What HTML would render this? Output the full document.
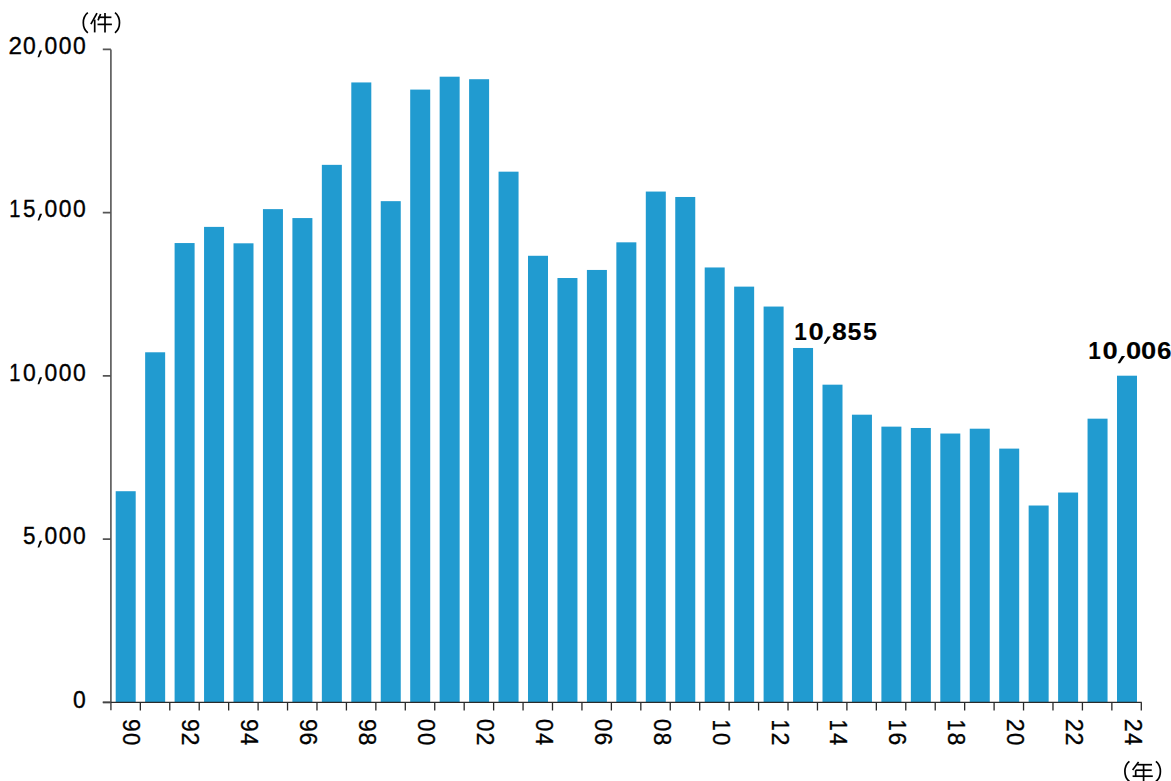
<!DOCTYPE html><html><head><meta charset="utf-8"><style>html,body{margin:0;padding:0;background:#fff;width:1171px;height:781px;overflow:hidden;font-family:"Liberation Sans",sans-serif}</style></head><body><svg width="1171" height="781" viewBox="0 0 1171 781" style="display:block;font-family:'Liberation Sans',sans-serif"><rect width="1171" height="781" fill="#fff"/><rect x="115.70" y="491.22" width="20.00" height="211.18" fill="#219BD0"/><rect x="145.15" y="352.29" width="20.00" height="350.11" fill="#219BD0"/><rect x="174.60" y="243.05" width="20.00" height="459.35" fill="#219BD0"/><rect x="204.05" y="226.89" width="20.00" height="475.51" fill="#219BD0"/><rect x="233.50" y="243.31" width="20.00" height="459.09" fill="#219BD0"/><rect x="262.95" y="209.12" width="20.00" height="493.28" fill="#219BD0"/><rect x="292.40" y="218.07" width="20.00" height="484.33" fill="#219BD0"/><rect x="321.85" y="164.85" width="20.00" height="537.55" fill="#219BD0"/><rect x="351.30" y="82.44" width="20.00" height="619.96" fill="#219BD0"/><rect x="380.75" y="201.16" width="20.00" height="501.24" fill="#219BD0"/><rect x="410.20" y="89.59" width="20.00" height="612.81" fill="#219BD0"/><rect x="439.65" y="76.70" width="20.00" height="625.70" fill="#219BD0"/><rect x="469.10" y="79.21" width="20.00" height="623.19" fill="#219BD0"/><rect x="498.55" y="171.67" width="20.00" height="530.73" fill="#219BD0"/><rect x="528.00" y="255.78" width="20.00" height="446.62" fill="#219BD0"/><rect x="557.45" y="278.02" width="20.00" height="424.38" fill="#219BD0"/><rect x="586.90" y="269.95" width="20.00" height="432.45" fill="#219BD0"/><rect x="616.35" y="242.33" width="20.00" height="460.07" fill="#219BD0"/><rect x="645.80" y="191.56" width="20.00" height="510.84" fill="#219BD0"/><rect x="675.25" y="196.98" width="20.00" height="505.42" fill="#219BD0"/><rect x="704.70" y="267.47" width="20.00" height="434.93" fill="#219BD0"/><rect x="734.15" y="286.63" width="20.00" height="415.77" fill="#219BD0"/><rect x="763.60" y="306.55" width="20.00" height="395.85" fill="#219BD0"/><rect x="793.05" y="347.98" width="20.00" height="354.42" fill="#219BD0"/><rect x="822.50" y="384.68" width="20.00" height="317.72" fill="#219BD0"/><rect x="851.95" y="414.69" width="20.00" height="287.71" fill="#219BD0"/><rect x="881.40" y="426.64" width="20.00" height="275.76" fill="#219BD0"/><rect x="910.85" y="427.98" width="20.00" height="274.42" fill="#219BD0"/><rect x="940.30" y="433.53" width="20.00" height="268.87" fill="#219BD0"/><rect x="969.75" y="428.70" width="20.00" height="273.70" fill="#219BD0"/><rect x="999.20" y="448.61" width="20.00" height="253.79" fill="#219BD0"/><rect x="1028.65" y="505.52" width="20.00" height="196.88" fill="#219BD0"/><rect x="1058.10" y="492.53" width="20.00" height="209.87" fill="#219BD0"/><rect x="1087.55" y="418.67" width="20.00" height="283.73" fill="#219BD0"/><rect x="1117.00" y="375.70" width="20.00" height="326.70" fill="#219BD0"/><path d="M110.90 49.40V710.30 M102.80 702.40H110.90 M102.80 539.15H110.90 M102.80 375.90H110.90 M102.80 212.65H110.90 M102.80 49.40H110.90" stroke="#555" stroke-width="1.6" fill="none"/><path d="M110.90 702.40H1141.80 M140.34 702.40V710.40 M169.78 702.40V710.40 M199.22 702.40V710.40 M228.66 702.40V710.40 M258.10 702.40V710.40 M287.54 702.40V710.40 M316.98 702.40V710.40 M346.42 702.40V710.40 M375.86 702.40V710.40 M405.30 702.40V710.40 M434.74 702.40V710.40 M464.18 702.40V710.40 M493.62 702.40V710.40 M523.06 702.40V710.40 M552.50 702.40V710.40 M581.94 702.40V710.40 M611.38 702.40V710.40 M640.82 702.40V710.40 M670.26 702.40V710.40 M699.70 702.40V710.40 M729.14 702.40V710.40 M758.58 702.40V710.40 M788.02 702.40V710.40 M817.46 702.40V710.40 M846.90 702.40V710.40 M876.34 702.40V710.40 M905.78 702.40V710.40 M935.22 702.40V710.40 M964.66 702.40V710.40 M994.10 702.40V710.40 M1023.54 702.40V710.40 M1052.98 702.40V710.40 M1082.42 702.40V710.40 M1111.86 702.40V710.40 M1141.30 702.40V710.40" stroke="#2a2a2a" stroke-width="1.3" fill="none"/><path d="M102.8 702.40H110.90" stroke="#444" stroke-width="1.5" fill="none"/><g fill="#000" stroke="#000" stroke-width="0.35" stroke-linejoin="round"><text transform="translate(72.88 707.50) scale(0.9831 1)" font-size="23.30" font-weight="normal">0</text></g><g fill="#000" stroke="#000" stroke-width="0.35" stroke-linejoin="round"><text transform="translate(23.08 543.90) scale(0.9549 1)" font-size="23.52" font-weight="normal">5</text><text transform="translate(44.48 543.90) scale(0.9738 1)" font-size="23.52" font-weight="normal">0</text><text transform="translate(58.78 543.90) scale(0.9738 1)" font-size="23.52" font-weight="normal">0</text><text transform="translate(72.88 543.90) scale(0.9738 1)" font-size="23.52" font-weight="normal">0</text></g><path d="M39.85 540.70 L42.15 540.70 L39.25 547.60 L37.55 547.60 Z" fill="#000"/><g fill="#000" stroke="#000" stroke-width="0.35" stroke-linejoin="round"><text transform="translate(9.35 380.50) scale(0.8477 1)" font-size="23.67" font-weight="normal">1</text><text transform="translate(22.93 380.50) scale(0.9679 1)" font-size="23.67" font-weight="normal">0</text><text transform="translate(44.48 380.50) scale(0.9679 1)" font-size="23.67" font-weight="normal">0</text><text transform="translate(58.78 380.50) scale(0.9679 1)" font-size="23.67" font-weight="normal">0</text><text transform="translate(72.88 380.50) scale(0.9679 1)" font-size="23.67" font-weight="normal">0</text></g><path d="M39.85 377.30 L42.15 377.30 L39.25 384.20 L37.55 384.20 Z" fill="#000"/><g fill="#000" stroke="#000" stroke-width="0.35" stroke-linejoin="round"><text transform="translate(9.35 216.90) scale(0.8376 1)" font-size="23.95" font-weight="normal">1</text><text transform="translate(23.08 216.90) scale(0.9378 1)" font-size="23.95" font-weight="normal">5</text><text transform="translate(44.48 216.90) scale(0.9563 1)" font-size="23.95" font-weight="normal">0</text><text transform="translate(58.78 216.90) scale(0.9563 1)" font-size="23.95" font-weight="normal">0</text><text transform="translate(72.88 216.90) scale(0.9563 1)" font-size="23.95" font-weight="normal">0</text></g><path d="M39.85 213.70 L42.15 213.70 L39.25 220.60 L37.55 220.60 Z" fill="#000"/><g fill="#000" stroke="#000" stroke-width="0.35" stroke-linejoin="round"><text transform="translate(8.46 53.60) scale(1.0249 1)" font-size="23.67" font-weight="normal">2</text><text transform="translate(22.93 53.60) scale(0.9679 1)" font-size="23.67" font-weight="normal">0</text><text transform="translate(44.48 53.60) scale(0.9679 1)" font-size="23.67" font-weight="normal">0</text><text transform="translate(58.78 53.60) scale(0.9679 1)" font-size="23.67" font-weight="normal">0</text><text transform="translate(72.88 53.60) scale(0.9679 1)" font-size="23.67" font-weight="normal">0</text></g><path d="M39.85 50.40 L42.15 50.40 L39.25 57.30 L37.55 57.30 Z" fill="#000"/><g fill="#000" stroke="#000" stroke-width="0.35" stroke-linejoin="round"><text transform="translate(123.40 718.90) rotate(90) scale(0.9712 1)" font-size="23.52">9</text><text transform="translate(123.40 732.91) rotate(90) scale(0.9385 1)" font-size="23.52">0</text></g><g fill="#000" stroke="#000" stroke-width="0.35" stroke-linejoin="round"><text transform="translate(182.32 718.90) rotate(90) scale(0.9712 1)" font-size="23.52">9</text><text transform="translate(182.32 732.55) rotate(90) scale(0.9941 1)" font-size="23.52">2</text></g><g fill="#000" stroke="#000" stroke-width="0.35" stroke-linejoin="round"><text transform="translate(241.24 718.90) rotate(90) scale(0.9712 1)" font-size="23.52">9</text><text transform="translate(241.24 733.13) rotate(90) scale(0.9156 1)" font-size="23.52">4</text></g><g fill="#000" stroke="#000" stroke-width="0.35" stroke-linejoin="round"><text transform="translate(300.16 718.90) rotate(90) scale(0.9712 1)" font-size="23.52">9</text><text transform="translate(300.16 732.61) rotate(90) scale(0.9722 1)" font-size="23.52">6</text></g><g fill="#000" stroke="#000" stroke-width="0.35" stroke-linejoin="round"><text transform="translate(359.08 718.90) rotate(90) scale(0.9712 1)" font-size="23.52">9</text><text transform="translate(359.08 732.80) rotate(90) scale(0.9561 1)" font-size="23.52">8</text></g><g fill="#000" stroke="#000" stroke-width="0.35" stroke-linejoin="round"><text transform="translate(418.00 719.11) rotate(90) scale(0.9385 1)" font-size="23.52">0</text><text transform="translate(418.00 732.91) rotate(90) scale(0.9385 1)" font-size="23.52">0</text></g><g fill="#000" stroke="#000" stroke-width="0.35" stroke-linejoin="round"><text transform="translate(476.92 719.11) rotate(90) scale(0.9385 1)" font-size="23.52">0</text><text transform="translate(476.92 732.55) rotate(90) scale(0.9941 1)" font-size="23.52">2</text></g><g fill="#000" stroke="#000" stroke-width="0.35" stroke-linejoin="round"><text transform="translate(535.84 719.11) rotate(90) scale(0.9385 1)" font-size="23.52">0</text><text transform="translate(535.84 733.13) rotate(90) scale(0.9156 1)" font-size="23.52">4</text></g><g fill="#000" stroke="#000" stroke-width="0.35" stroke-linejoin="round"><text transform="translate(594.76 719.11) rotate(90) scale(0.9385 1)" font-size="23.52">0</text><text transform="translate(594.76 732.61) rotate(90) scale(0.9722 1)" font-size="23.52">6</text></g><g fill="#000" stroke="#000" stroke-width="0.35" stroke-linejoin="round"><text transform="translate(653.68 719.11) rotate(90) scale(0.9385 1)" font-size="23.52">0</text><text transform="translate(653.68 732.80) rotate(90) scale(0.9561 1)" font-size="23.52">8</text></g><g fill="#000" stroke="#000" stroke-width="0.35" stroke-linejoin="round"><text transform="translate(712.60 719.40) rotate(90) scale(0.8531 1)" font-size="23.52">1</text><text transform="translate(712.60 732.91) rotate(90) scale(0.9385 1)" font-size="23.52">0</text></g><g fill="#000" stroke="#000" stroke-width="0.35" stroke-linejoin="round"><text transform="translate(771.52 719.40) rotate(90) scale(0.8531 1)" font-size="23.52">1</text><text transform="translate(771.52 732.55) rotate(90) scale(0.9941 1)" font-size="23.52">2</text></g><g fill="#000" stroke="#000" stroke-width="0.35" stroke-linejoin="round"><text transform="translate(830.44 719.40) rotate(90) scale(0.8531 1)" font-size="23.52">1</text><text transform="translate(830.44 733.13) rotate(90) scale(0.9156 1)" font-size="23.52">4</text></g><g fill="#000" stroke="#000" stroke-width="0.35" stroke-linejoin="round"><text transform="translate(889.36 719.40) rotate(90) scale(0.8531 1)" font-size="23.52">1</text><text transform="translate(889.36 732.61) rotate(90) scale(0.9722 1)" font-size="23.52">6</text></g><g fill="#000" stroke="#000" stroke-width="0.35" stroke-linejoin="round"><text transform="translate(948.28 719.40) rotate(90) scale(0.8531 1)" font-size="23.52">1</text><text transform="translate(948.28 732.80) rotate(90) scale(0.9561 1)" font-size="23.52">8</text></g><g fill="#000" stroke="#000" stroke-width="0.35" stroke-linejoin="round"><text transform="translate(1007.20 718.75) rotate(90) scale(0.9941 1)" font-size="23.52">2</text><text transform="translate(1007.20 732.91) rotate(90) scale(0.9385 1)" font-size="23.52">0</text></g><g fill="#000" stroke="#000" stroke-width="0.35" stroke-linejoin="round"><text transform="translate(1066.12 718.75) rotate(90) scale(0.9941 1)" font-size="23.52">2</text><text transform="translate(1066.12 732.55) rotate(90) scale(0.9941 1)" font-size="23.52">2</text></g><g fill="#000" stroke="#000" stroke-width="0.35" stroke-linejoin="round"><text transform="translate(1125.04 718.75) rotate(90) scale(0.9941 1)" font-size="23.52">2</text><text transform="translate(1125.04 733.13) rotate(90) scale(0.9156 1)" font-size="23.52">4</text></g><g fill="#000" stroke="#000" stroke-width="0.10" stroke-linejoin="round"><text transform="translate(794.23 339.50) scale(0.9636 1)" font-size="23.42" font-weight="bold">1</text><text transform="translate(808.52 339.50) scale(1.1674 1)" font-size="23.42" font-weight="bold">0</text><text transform="translate(832.11 339.50) scale(1.1333 1)" font-size="23.42" font-weight="bold">8</text><text transform="translate(847.48 339.50) scale(1.0729 1)" font-size="23.42" font-weight="bold">5</text><text transform="translate(863.03 339.50) scale(1.0729 1)" font-size="23.42" font-weight="bold">5</text></g><path d="M827.60 336.40 L831.00 336.40 L825.90 343.70 L823.50 343.70 Z" fill="#000"/><g fill="#000" stroke="#000" stroke-width="0.10" stroke-linejoin="round"><text transform="translate(1088.33 359.10) scale(0.9684 1)" font-size="23.30" font-weight="bold">1</text><text transform="translate(1102.62 359.10) scale(1.1732 1)" font-size="23.30" font-weight="bold">0</text><text transform="translate(1126.02 359.10) scale(1.1732 1)" font-size="23.30" font-weight="bold">0</text><text transform="translate(1141.02 359.10) scale(1.1732 1)" font-size="23.30" font-weight="bold">0</text><text transform="translate(1156.90 359.10) scale(1.1187 1)" font-size="23.30" font-weight="bold">6</text></g><path d="M1121.70 356.00 L1125.10 356.00 L1120.00 363.30 L1117.60 363.30 Z" fill="#000"/><g fill="none" stroke="#000" stroke-width="1.7" stroke-linecap="butt"><path d="M87.8 12.6 C81.8 17.5 81.8 27.9 87.8 32.8"/><path d="M115 12.6 C121 17.5 121 27.9 115 32.8"/><path d="M97.0 13.2 L90.9 24.2"/><path d="M94.7 19.6 V32.4"/><path d="M100.6 14.0 L98.05 20.4"/><path d="M98.3 17.3 H111.4"/><path d="M97.5 24.4 H111.9"/><path d="M105 12.9 V32.4"/></g><g fill="none" stroke="#000" stroke-width="1.7" stroke-linecap="butt"><path d="M1129.4 761.3 C1123.4 766.2 1123.4 776.6 1129.4 781.5"/><path d="M1155.9 761.3 C1161.9 766.2 1161.9 776.6 1155.9 781.5"/><path d="M1138.6 762 L1132.6 769.9"/><path d="M1137.3 764.7 H1152"/><path d="M1135.7 770.2 H1151.7"/><path d="M1135.7 770.2 V776.2"/><path d="M1132.6 776.2 H1152.8"/><path d="M1143.6 764.7 V782"/></g></svg></body></html>
